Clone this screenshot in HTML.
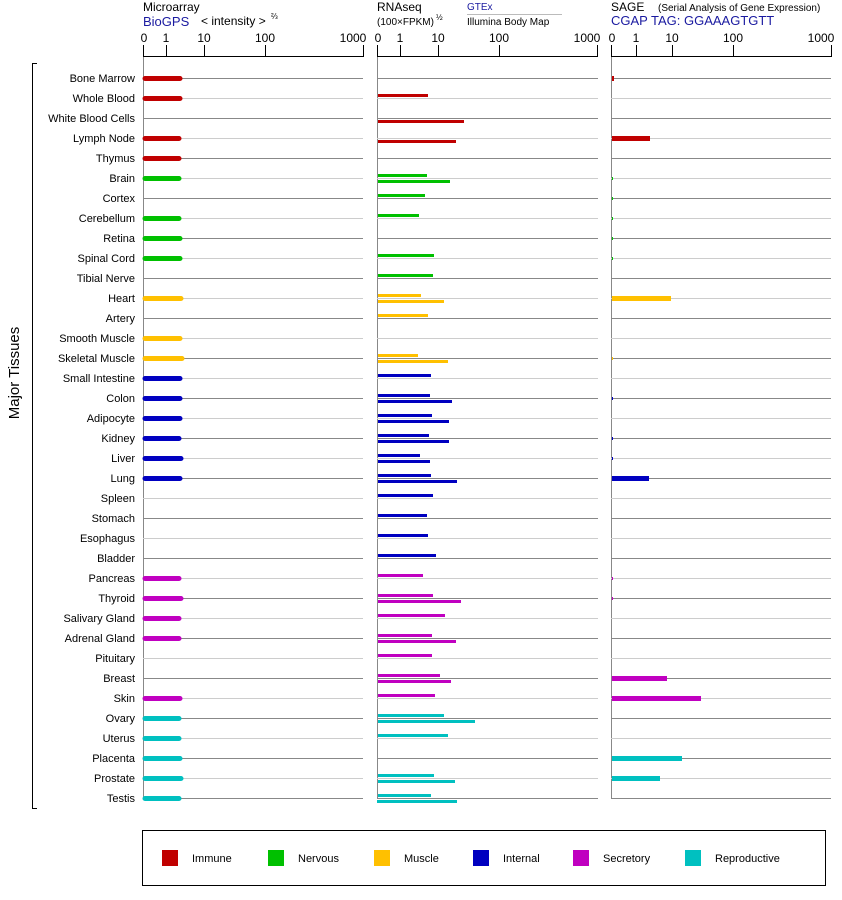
<!DOCTYPE html>
<html><head><meta charset="utf-8"><style>
body{margin:0;background:#fff;width:842px;height:900px;overflow:hidden}
svg{display:block;font-family:"Liberation Sans",Arial,sans-serif}
</style></head><body>
<svg width="842" height="900" viewBox="0 0 842 900">
<g font-size="12" fill="#000">
<text x="143" y="11">Microarray</text>
<text x="143" y="26" fill="#1a1aa0" font-size="13">BioGPS</text>
<text x="201" y="25">&lt; intensity &gt;</text><text x="271" y="19" font-size="8">⅔</text>
<text x="377" y="11">RNAseq</text>
<text x="377" y="25" font-size="10">(100×FPKM)</text><text x="436" y="20" font-size="8">½</text>
<text x="467" y="10" font-size="10" fill="#1a1aa0">GTEx</text>
<line x1="467" y1="14.5" x2="562" y2="14.5" stroke="#bbb"/>
<text x="467" y="25" font-size="10">Illumina Body Map</text>
<text x="611" y="11">SAGE</text><text x="658" y="11" font-size="10">(Serial Analysis of Gene Expression)</text>
<text x="611" y="25" fill="#1a1aa0" font-size="13">CGAP TAG: GGAAAGTGTT</text>
</g>
<g font-size="12" text-anchor="middle">
<text x="144" y="42">0</text><text x="166" y="42">1</text><text x="204" y="42">10</text><text x="265" y="42">100</text><text x="353" y="42">1000</text>
<text x="378" y="42">0</text><text x="400" y="42">1</text><text x="438" y="42">10</text><text x="499" y="42">100</text><text x="587" y="42">1000</text>
<text x="612" y="42">0</text><text x="636" y="42">1</text><text x="672" y="42">10</text><text x="733" y="42">100</text><text x="821" y="42">1000</text>
</g>
<g stroke="#000" stroke-width="1" fill="none">
<path d="M143.5 45V56.5H363.5V45M166.5 45V56M204.5 45V56M265.5 45V56"/>
<path d="M377.5 45V56.5H597.5V45M400.5 45V56M438.5 45V56M499.5 45V56"/>
<path d="M611.5 45V56.5H831.5V45M636.5 45V56M672.5 45V56M733.5 45V56"/>
<path d="M37 63.5H32.5V808.5H37"/>
</g>
<g stroke="#888"><path d="M143.5 57V799M377.5 57V799M611.5 57V799"/></g>
<text transform="translate(19,373) rotate(-90)" text-anchor="middle" font-size="15">Major Tissues</text>
<g id="lines">
<path stroke="#888" d="M143 78.5H363M377 78.5H598M611 78.5H831M143 118.5H363M377 118.5H598M611 118.5H831M143 158.5H363M377 158.5H598M611 158.5H831M143 198.5H363M377 198.5H598M611 198.5H831M143 238.5H363M377 238.5H598M611 238.5H831M143 278.5H363M377 278.5H598M611 278.5H831M143 318.5H363M377 318.5H598M611 318.5H831M143 358.5H363M377 358.5H598M611 358.5H831M143 398.5H363M377 398.5H598M611 398.5H831M143 438.5H363M377 438.5H598M611 438.5H831M143 478.5H363M377 478.5H598M611 478.5H831M143 518.5H363M377 518.5H598M611 518.5H831M143 558.5H363M377 558.5H598M611 558.5H831M143 598.5H363M377 598.5H598M611 598.5H831M143 638.5H363M377 638.5H598M611 638.5H831M143 678.5H363M377 678.5H598M611 678.5H831M143 718.5H363M377 718.5H598M611 718.5H831M143 758.5H363M377 758.5H598M611 758.5H831M143 798.5H363M377 798.5H598M611 798.5H831"/>
<path stroke="#ccc" d="M143 98.5H363M377 98.5H598M611 98.5H831M143 138.5H363M377 138.5H598M611 138.5H831M143 178.5H363M377 178.5H598M611 178.5H831M143 218.5H363M377 218.5H598M611 218.5H831M143 258.5H363M377 258.5H598M611 258.5H831M143 298.5H363M377 298.5H598M611 298.5H831M143 338.5H363M377 338.5H598M611 338.5H831M143 378.5H363M377 378.5H598M611 378.5H831M143 418.5H363M377 418.5H598M611 418.5H831M143 458.5H363M377 458.5H598M611 458.5H831M143 498.5H363M377 498.5H598M611 498.5H831M143 538.5H363M377 538.5H598M611 538.5H831M143 578.5H363M377 578.5H598M611 578.5H831M143 618.5H363M377 618.5H598M611 618.5H831M143 658.5H363M377 658.5H598M611 658.5H831M143 698.5H363M377 698.5H598M611 698.5H831M143 738.5H363M377 738.5H598M611 738.5H831M143 778.5H363M377 778.5H598M611 778.5H831"/>
</g>
<g font-size="11" text-anchor="end">
<text x="135" y="82">Bone Marrow</text><text x="135" y="102">Whole Blood</text><text x="135" y="122">White Blood Cells</text><text x="135" y="142">Lymph Node</text><text x="135" y="162">Thymus</text><text x="135" y="182">Brain</text><text x="135" y="202">Cortex</text><text x="135" y="222">Cerebellum</text><text x="135" y="242">Retina</text><text x="135" y="262">Spinal Cord</text><text x="135" y="282">Tibial Nerve</text><text x="135" y="302">Heart</text><text x="135" y="322">Artery</text><text x="135" y="342">Smooth Muscle</text><text x="135" y="362">Skeletal Muscle</text><text x="135" y="382">Small Intestine</text><text x="135" y="402">Colon</text><text x="135" y="422">Adipocyte</text><text x="135" y="442">Kidney</text><text x="135" y="462">Liver</text><text x="135" y="482">Lung</text><text x="135" y="502">Spleen</text><text x="135" y="522">Stomach</text><text x="135" y="542">Esophagus</text><text x="135" y="562">Bladder</text><text x="135" y="582">Pancreas</text><text x="135" y="602">Thyroid</text><text x="135" y="622">Salivary Gland</text><text x="135" y="642">Adrenal Gland</text><text x="135" y="662">Pituitary</text><text x="135" y="682">Breast</text><text x="135" y="702">Skin</text><text x="135" y="722">Ovary</text><text x="135" y="742">Uterus</text><text x="135" y="762">Placenta</text><text x="135" y="782">Prostate</text><text x="135" y="802">Testis</text>
</g>
<g stroke-width="5" stroke-linecap="round">
<path stroke="#c00000" d="M145 78.5H180M145 98.5H180M145 138.5H179M145 158.5H179"/>
<path stroke="#00c000" d="M145 178.5H179M145 218.5H179M145 238.5H180M145 258.5H180"/>
<path stroke="#ffc000" d="M145 298.5H181M145 338.5H180M145 358.5H182"/>
<path stroke="#0000c0" d="M145 378.5H180M145 398.5H180M145 418.5H180M145 438.5H179M145 458.5H181M145 478.5H180"/>
<path stroke="#c000c0" d="M145 578.5H179M145 598.5H181M145 618.5H179M145 638.5H179M145 698.5H180"/>
<path stroke="#00c0c0" d="M145 718.5H179M145 738.5H179M145 758.5H180M145 778.5H181M145 798.5H179"/>
</g>
<g fill="#c00000"><rect x="378" y="94" width="50" height="3"/><rect x="378" y="120" width="86" height="3"/><rect x="378" y="140" width="78" height="3"/></g>
<g fill="#00c000"><rect x="378" y="174" width="49" height="3"/><rect x="378" y="180" width="72" height="3"/><rect x="378" y="194" width="47" height="3"/><rect x="378" y="214" width="41" height="3"/><rect x="378" y="254" width="56" height="3"/><rect x="378" y="274" width="55" height="3"/></g>
<g fill="#ffc000"><rect x="378" y="294" width="43" height="3"/><rect x="378" y="300" width="66" height="3"/><rect x="378" y="314" width="50" height="3"/><rect x="378" y="354" width="40" height="3"/><rect x="378" y="360" width="70" height="3"/></g>
<g fill="#0000c0"><rect x="378" y="374" width="53" height="3"/><rect x="378" y="394" width="52" height="3"/><rect x="378" y="400" width="74" height="3"/><rect x="378" y="414" width="54" height="3"/><rect x="378" y="420" width="71" height="3"/><rect x="378" y="434" width="51" height="3"/><rect x="378" y="440" width="71" height="3"/><rect x="378" y="454" width="42" height="3"/><rect x="378" y="460" width="52" height="3"/><rect x="378" y="474" width="53" height="3"/><rect x="378" y="480" width="79" height="3"/><rect x="378" y="494" width="55" height="3"/><rect x="378" y="514" width="49" height="3"/><rect x="378" y="534" width="50" height="3"/><rect x="378" y="554" width="58" height="3"/></g>
<g fill="#c000c0"><rect x="378" y="574" width="45" height="3"/><rect x="378" y="594" width="55" height="3"/><rect x="378" y="600" width="83" height="3"/><rect x="378" y="614" width="67" height="3"/><rect x="378" y="634" width="54" height="3"/><rect x="378" y="640" width="78" height="3"/><rect x="378" y="654" width="54" height="3"/><rect x="378" y="674" width="62" height="3"/><rect x="378" y="680" width="73" height="3"/><rect x="378" y="694" width="57" height="3"/></g>
<g fill="#00c0c0"><rect x="378" y="714" width="66" height="3"/><rect x="378" y="720" width="97" height="3"/><rect x="378" y="734" width="70" height="3"/><rect x="378" y="774" width="56" height="3"/><rect x="378" y="780" width="77" height="3"/><rect x="378" y="794" width="53" height="3"/><rect x="377" y="800" width="80" height="3"/></g>
<g fill="#c00000"><rect x="612" y="76" width="2" height="5"/><rect x="612" y="136" width="38" height="5"/></g>
<g fill="#00c000"><rect x="612" y="177" width="1" height="3"/><rect x="612" y="197" width="1" height="3"/><rect x="612" y="217" width="1" height="3"/><rect x="612" y="237" width="1" height="3"/><rect x="612" y="257" width="1" height="3"/></g>
<g fill="#ffc000"><rect x="612" y="296" width="59" height="5"/><rect x="612" y="357" width="1" height="3"/></g>
<g fill="#0000c0"><rect x="612" y="397" width="1" height="3"/><rect x="612" y="437" width="1" height="3"/><rect x="612" y="457" width="1" height="3"/><rect x="612" y="476" width="37" height="5"/></g>
<g fill="#c000c0"><rect x="612" y="577" width="1" height="3"/><rect x="612" y="597" width="1" height="3"/><rect x="612" y="676" width="55" height="5"/><rect x="612" y="696" width="89" height="5"/></g>
<g fill="#00c0c0"><rect x="612" y="756" width="70" height="5"/><rect x="612" y="776" width="48" height="5"/></g>
<rect x="142.5" y="830.5" width="683" height="55" fill="none" stroke="#000"/>
<rect x="162" y="850" width="16" height="16" fill="#c00000"/><rect x="268" y="850" width="16" height="16" fill="#00c000"/><rect x="374" y="850" width="16" height="16" fill="#ffc000"/><rect x="473" y="850" width="16" height="16" fill="#0000c0"/><rect x="573" y="850" width="16" height="16" fill="#c000c0"/><rect x="685" y="850" width="16" height="16" fill="#00c0c0"/>
<g font-size="11"><text x="192" y="862">Immune</text><text x="298" y="862">Nervous</text><text x="404" y="862">Muscle</text><text x="503" y="862">Internal</text><text x="603" y="862">Secretory</text><text x="715" y="862">Reproductive</text></g>
</svg>
</body></html>
